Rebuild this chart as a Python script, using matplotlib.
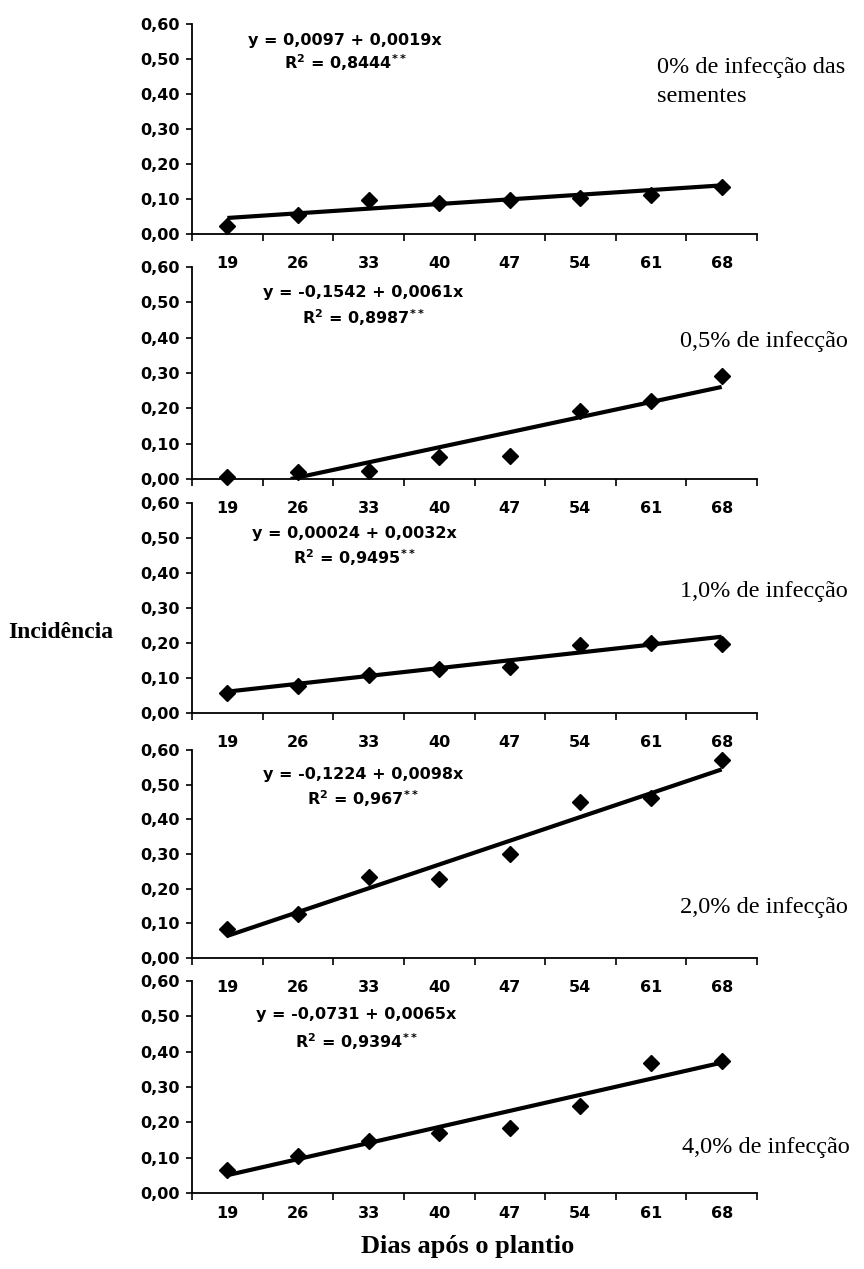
import matplotlib
matplotlib.use("Agg")
import matplotlib.pyplot as plt
import numpy as np

days = [19, 26, 33, 40, 47, 54, 61, 68]
inc_0 = [0.024, 0.054, 0.097, 0.090, 0.097, 0.103, 0.111, 0.135]
inc_05 = [0.006, 0.020, 0.024, 0.062, 0.066, 0.192, 0.222, 0.291]
inc_10 = [0.057, 0.078, 0.108, 0.127, 0.132, 0.194, 0.199, 0.197]
inc_20 = [0.083, 0.126, 0.234, 0.227, 0.300, 0.450, 0.462, 0.570]
inc_40 = [0.065, 0.105, 0.148, 0.169, 0.184, 0.245, 0.367, 0.374]

intercepts = [0.0097, -0.1542, 0.00024, -0.1224, -0.0731]
slopes = [0.0019, 0.0061, 0.0032, 0.0098, 0.0065]
eq_texts = ["y = 0,0097 + 0,0019x", "y = -0,1542 + 0,0061x", "y = 0,00024 + 0,0032x",
            "y = -0,1224 + 0,0098x", "y = -0,0731 + 0,0065x"]
r2_texts = ["0,8444", "0,8987", "0,9495", "0,967", "0,9394"]
panel_labels = [["0% de infecção das", "sementes"], ["0,5% de infecção"], ["1,0% de infecção"],
                ["2,0% de infecção"], ["4,0% de infecção"]]
yticks = [0.0, 0.1, 0.2, 0.3, 0.4, 0.5, 0.6]
ytick_labels = ["0,00", "0,10", "0,20", "0,30", "0,40", "0,50", "0,60"]

series = [inc_0, inc_05, inc_10, inc_20, inc_40]

plt.rcParams['mathtext.fontset'] = 'custom'
plt.rcParams['mathtext.rm'] = 'DejaVu Sans:bold'
plt.rcParams['mathtext.it'] = 'DejaVu Sans:bold'
plt.rcParams['mathtext.bf'] = 'DejaVu Sans:bold'

W, H = 864, 1269
fig = plt.figure(figsize=(W / 100, H / 100), dpi=100)

# panel pixel geometry (top of 0.60, bottom 0.00)
tops = [24, 267, 503, 750, 981]
bottoms = [234, 479, 713, 958, 1193]
xlab_pads = [16, 16, 16, 16, 9.5]
left_px, right_px = 192, 757
eq_pos = [(345, 40, 63), (363, 293, 318), (354, 533, 558), (363, 775, 799), (356, 1015, 1042)]
lab_pos = [(657, [67, 97]), (680, [342]), (680, [592]), (680, [907]), (682, [1148])]

sans = 'DejaVu Sans'
serif = 'Liberation Serif'
tick_fs = 11.5

for i in range(5):
    t, b = tops[i], bottoms[i]
    ax = fig.add_axes([left_px / W, 1 - b / H, (right_px - left_px) / W, (b - t) / H])
    ax.set_xlim(15.5, 71.5)
    ax.set_ylim(0, 0.6)
    ax.plot(days, series[i], linestyle='none', marker='D', markersize=8.5,
            color='black', zorder=3, clip_on=False)
    a, s = intercepts[i], slopes[i]
    x0 = max(days[0], -a / s)
    xs = np.array([x0, days[-1]])
    ax.plot(xs, a + s * xs, color='black', linewidth=3, solid_capstyle='butt', zorder=2)
    for sp in ['top', 'right']:
        ax.spines[sp].set_visible(False)
    for sp in ['left', 'bottom']:
        ax.spines[sp].set_linewidth(1.3)
    ax.set_yticks(yticks)
    ax.set_yticklabels(ytick_labels, fontfamily=sans, fontweight='bold', fontsize=tick_fs)
    ax.set_xticks(np.arange(15.5, 72, 7))
    ax.set_xticklabels([])
    ax.set_xticks(days, minor=True)
    ax.set_xticklabels([str(d) for d in days], minor=True, fontfamily=sans,
                       fontweight='bold', fontsize=tick_fs)
    ax.tick_params(axis='x', which='minor', length=0, pad=xlab_pads[i])
    ax.tick_params(axis='x', which='major', length=5, width=1.2, direction='out')
    ax.tick_params(axis='y', length=4, width=1.2, direction='out', pad=5)
    ax.patch.set_alpha(0)

    ex, ey1, ey2 = eq_pos[i]
    fig.text(ex / W, 1 - ey1 / H, eq_texts[i], ha='center', va='center',
             fontfamily=sans, fontweight='bold', fontsize=tick_fs)
    fig.text(ex / W, 1 - ey2 / H, r"R$^2$ = " + r2_texts[i] + r"$^{**}$", ha='center', va='center',
             fontfamily=sans, fontweight='bold', fontsize=tick_fs)
    lx, lys = lab_pos[i]
    for line, ly in zip(panel_labels[i], lys):
        fig.text(lx / W, 1 - ly / H, line, ha='left', va='center',
                 fontfamily=serif, fontsize=17.5)

fig.text(8 / W, 1 - 632 / H, "Incidência", ha='left', va='center',
         fontfamily=serif, fontweight='bold', fontsize=17)
fig.text(468 / W, 1 - 1247 / H, "Dias após o plantio", ha='center', va='center',
         fontfamily=serif, fontweight='bold', fontsize=19)

fig.savefig("out.png", dpi=100)
